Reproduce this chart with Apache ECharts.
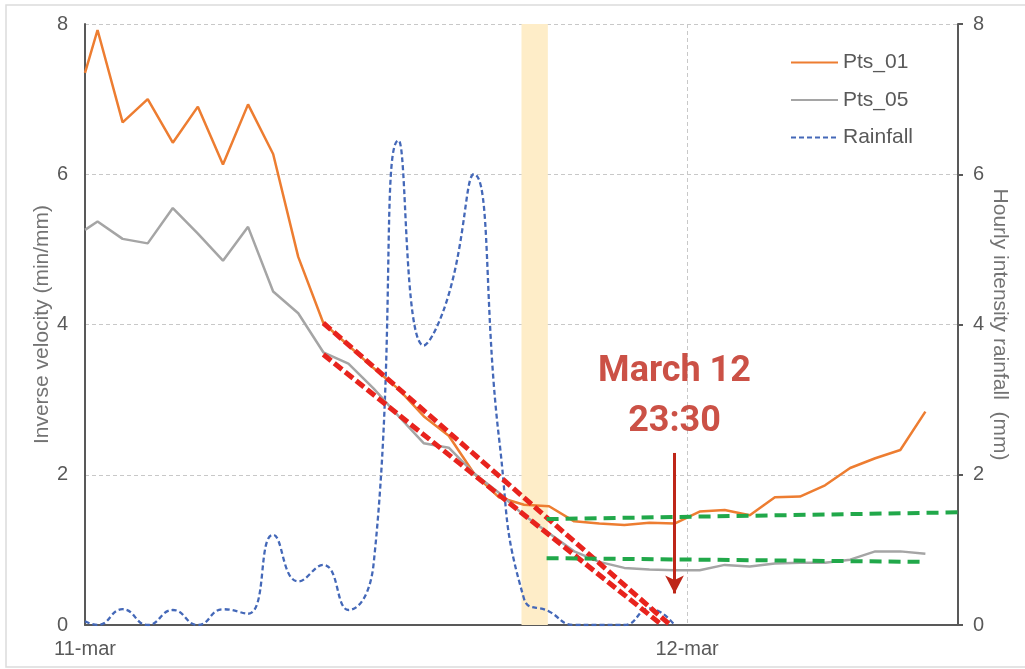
<!DOCTYPE html>
<html>
<head>
<meta charset="utf-8">
<script src="https://cdn.jsdelivr.net/npm/echarts/dist/echarts.min.js"></script>
<style>
  html, body { margin: 0; padding: 0; background: #ffffff; }
  #chart { width: 1025px; height: 669px; }
</style>
</head>
<body>
<div id="chart"></div>
<script>
// Reading times, in hours after 11-mar 00:00
const hours = [0, 0.5, 1.5, 2.5, 3.5, 4.5, 5.5, 6.5, 7.5, 8.5, 9.5, 10.5, 11.5, 12.5, 13.5, 14.5,
  15.5, 16.5, 17.5, 18.5, 19.5, 20.5, 21.5, 22.5, 23.5, 24.5, 25.5, 26.5, 27.5, 28.5, 29.5,
  30.5, 31.5, 32.5, 33.5];

// Inverse velocity (min/mm)
const pts01 = [7.35, 7.92, 6.69, 7.00, 6.42, 6.90, 6.13, 6.93, 6.27, 4.90, 4.02, 3.72, 3.42, 3.14,
  2.78, 2.52, 2.02, 1.70, 1.60, 1.58, 1.38, 1.35, 1.33, 1.36, 1.35, 1.51, 1.53, 1.46, 1.70,
  1.71, 1.86, 2.09, 2.22, 2.33, 2.84];
const pts05 = [5.26, 5.37, 5.14, 5.08, 5.55, 5.21, 4.85, 5.30, 4.44, 4.15, 3.63, 3.48, 3.15, 2.78,
  2.42, 2.36, 2.02, 1.76, 1.46, 1.22, 0.98, 0.84, 0.76, 0.74, 0.73, 0.73, 0.80, 0.78, 0.82,
  0.83, 0.83, 0.87, 0.98, 0.98, 0.95];

// Hourly rainfall intensity (mm), recorded up to 23:30 on 11-mar
const rainfall = [0.05, 0, 0.21, 0, 0.20, 0, 0.21, 0.15, 1.20, 0.58, 0.80, 0.20, 0.80, 6.45,
  3.72, 4.40, 6.00, 2.50, 0.35, 0.18, 0, 0, 0, 0.22, 0];

// Linear fits of the accelerating phase (inverse velocity falling to zero)
const trend01 = [[9.5, 4.02], [23.33, 0]];
const trend05 = [[9.5, 3.6], [23.0, 0]];
// Steady levels after the rainfall
const level01 = [[18.4, 1.41], [34.8, 1.50]];
const level05 = [[18.4, 0.89], [33.5, 0.84]];

const highlightBand = [17.4, 18.45];
const forecastTime = 23.5;
const forecastArrow = [2.29, 0.42];
const forecastTextY = 3.03;
const forecastLabel = 'March 12\n23:30';

const xTickLabels = ['11-mar', '12-mar'];
const xTickStep = 24;

const pair = (xs, ys) => ys.map((v, i) => [xs[i], v]);

const axisGray = '#595959';
const titleGray = '#737373';
const gridGray = '#c8c8c8';
const font = "'Liberation Sans', Arial, sans-serif";

const chart = echarts.init(document.getElementById('chart'), null, { renderer: 'canvas' });

chart.setOption({
  backgroundColor: '#ffffff',
  animation: false,
  textStyle: { fontFamily: font },
  grid: { left: 85, right: 67, top: 24, bottom: 44, containLabel: false, outerBoundsMode: 'none' },
  graphic: [{
    type: 'rect',
    shape: { x: 6, y: 5, width: 1030, height: 662 },
    style: { fill: 'none', stroke: '#dcdcdc', lineWidth: 1.5 },
    silent: true, z: -10
  }],
  legend: {
    data: ['Pts_01', 'Pts_05', 'Rainfall'],
    orient: 'vertical',
    left: 790, top: 52, padding: 0,
    itemWidth: 47, itemHeight: 14, itemGap: 16.5,
    itemStyle: { opacity: 0 },
    textStyle: { fontSize: 21, color: axisGray, fontFamily: font },
    selectedMode: false
  },
  xAxis: {
    type: 'value', min: 0, max: 34.8, interval: xTickStep,
    axisLine: { show: true, lineStyle: { color: axisGray, width: 2 } },
    axisTick: { show: false },
    axisLabel: {
      fontSize: 20, color: axisGray, margin: 14, fontFamily: font,
      formatter: v => (v % xTickStep === 0 ? xTickLabels[v / xTickStep] : '')
    },
    splitLine: { show: true, lineStyle: { color: gridGray, type: [4, 3], width: 1 } }
  },
  yAxis: [{
    type: 'value', min: 0, max: 8, interval: 2, position: 'left',
    name: 'Inverse velocity (min/mm)', nameLocation: 'middle', nameRotate: 90, nameGap: 32,
    nameMoveOverlap: false,
    nameTextStyle: { fontSize: 21, color: titleGray, fontFamily: font },
    axisLine: { show: true, lineStyle: { color: axisGray, width: 2 } },
    axisTick: { show: false },
    axisLabel: { fontSize: 20, color: axisGray, margin: 17, fontFamily: font },
    splitLine: { show: true, lineStyle: { color: gridGray, type: [4, 3], width: 1 } }
  }, {
    type: 'value', min: 0, max: 8, interval: 2, position: 'right',
    name: 'Hourly intensity rainfall  (mm)', nameLocation: 'middle', nameRotate: -90, nameGap: 31,
    nameMoveOverlap: false,
    nameTextStyle: { fontSize: 21, color: titleGray, fontFamily: font },
    axisLine: { show: true, lineStyle: { color: axisGray, width: 2 } },
    axisTick: { show: true, length: 5, inside: false, lineStyle: { color: axisGray, width: 2 } },
    axisLabel: { fontSize: 20, color: axisGray, margin: 15, fontFamily: font },
    splitLine: { show: false }
  }],
  series: [
    {
      name: 'band', type: 'line', data: [], silent: true,
      markArea: {
        silent: true,
        itemStyle: { color: '#FEEDC8' },
        data: [[{ xAxis: highlightBand[0] }, { xAxis: highlightBand[1] }]]
      }
    },
    {
      name: 'Rainfall', type: 'line', yAxisIndex: 1, data: pair(hours, rainfall),
      smooth: 0.5, symbol: 'none', color: '#4468B8',
      lineStyle: { color: '#4468B8', width: 2.3, type: [5, 3] }
    },
    {
      name: 'Pts_01', type: 'line', data: pair(hours, pts01), symbol: 'none', color: '#ED7D31',
      lineStyle: { color: '#ED7D31', width: 2.5 }
    },
    {
      name: 'Pts_05', type: 'line', data: pair(hours, pts05), symbol: 'none', color: '#A5A5A5',
      lineStyle: { color: '#A5A5A5', width: 2.5 }
    },
    {
      name: 'fit01', type: 'line', data: trend01, symbol: 'none', silent: true,
      lineStyle: { color: '#E8231D', width: 5, type: [10, 4] }
    },
    {
      name: 'fit05', type: 'line', data: trend05, symbol: 'none', silent: true,
      lineStyle: { color: '#E8231D', width: 5, type: [10, 4] }
    },
    {
      name: 'lvl01', type: 'line', data: level01, symbol: 'none', silent: true,
      lineStyle: { color: '#21A84A', width: 4, type: [12, 7] }
    },
    {
      name: 'lvl05', type: 'line', data: level05, symbol: 'none', silent: true,
      lineStyle: { color: '#21A84A', width: 4, type: [12, 7] }
    },
    {
      name: 'forecast', type: 'scatter', data: [[forecastTime, forecastTextY]],
      symbolSize: 1, itemStyle: { color: 'rgba(0,0,0,0)' }, silent: true, z: 10,
      label: {
        show: true, position: 'inside', formatter: forecastLabel,
        fontFamily: 'Roboto', fontWeight: 'bold', fontSize: 36, lineHeight: 50,
        color: '#BE2618', align: 'center', verticalAlign: 'middle'
      },
      markLine: {
        silent: true, symbol: ['none', 'arrow'], symbolSize: [14, 18],
        label: { show: false },
        lineStyle: { color: '#BE2618', width: 3, type: 'solid' },
        data: [[{ coord: [forecastTime, forecastArrow[0]] }, { coord: [forecastTime, forecastArrow[1]] }]]
      }
    }
  ]
});
</script>
</body>
</html>
